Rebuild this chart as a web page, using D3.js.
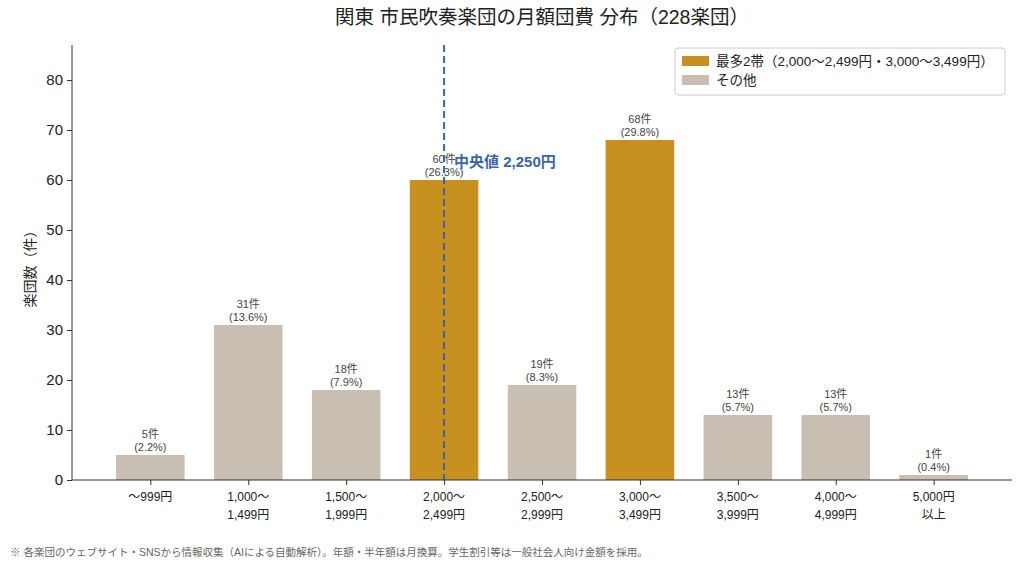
<!DOCTYPE html>
<html><head><meta charset="utf-8">
<script src="https://cdn.jsdelivr.net/npm/d3@7"></script>
<style>
body{margin:0;background:#fff;}
text{font-family:"Liberation Sans","Noto Sans CJK JP",sans-serif;}
</style></head>
<body><svg id="c" width="1024" height="572"></svg>
<script>
const categories = ["〜999円","1,000〜\n1,499円","1,500〜\n1,999円","2,000〜\n2,499円","2,500〜\n2,999円","3,000〜\n3,499円","3,500〜\n3,999円","4,000〜\n4,999円","5,000円\n以上"];
const counts = [5,31,18,60,19,68,13,13,1];
const percents = ["2.2%","13.6%","7.9%","26.3%","8.3%","29.8%","5.7%","5.7%","0.4%"];
const highlight = [false,false,false,true,false,true,false,false,false];
const yTicks = [0,10,20,30,40,50,60,70,80];
const medianIndex = 3;
const medianLabel = "中央値 2,250円";
const title = "関東 市民吹奏楽団の月額団費 分布（228楽団）";
const yLabel = "楽団数（件）";
const legendItems = ["最多2帯（2,000〜2,499円・3,000〜3,499円）","その他"];
const note = "※ 各楽団のウェブサイト・SNSから情報収集（AIによる自動解析）。年額・半年額は月換算。学生割引等は一般社会人向け金額を採用。";

const gold = "#C8901F", gray = "#C8BEB1", blue = "#3A65A8";
const svg = d3.select("#c");
const L = 72, R = 1012, T = 45, B = 480;
const x = d3.scaleLinear().domain([-0.8, 8.8]).range([L, R]);
const y = d3.scaleLinear().domain([0, 87]).range([B, T]);
const bw = (x(1)-x(0))*0.7;

svg.append("text").attr("x",(L+R)/2).attr("y",24).attr("text-anchor","middle")
  .attr("font-size",19.5).attr("fill","#222").text(title);

// bars
svg.selectAll("rect.bar").data(counts).join("rect")
  .attr("x",(d,i)=>x(i)-bw/2).attr("y",d=>y(d))
  .attr("width",bw).attr("height",d=>y(0)-y(d))
  .attr("fill",(d,i)=>highlight[i]?gold:gray);

// labels
counts.forEach((d,i)=>{
  svg.append("text").attr("x",x(i)).attr("y",y(d)-17).attr("text-anchor","middle")
    .attr("font-size",11).attr("fill","#444").text(d+"件");
  svg.append("text").attr("x",x(i)).attr("y",y(d)-4).attr("text-anchor","middle")
    .attr("font-size",11).attr("fill","#444").text("("+percents[i]+")");
});

// median line
svg.append("line").attr("x1",x(medianIndex)).attr("x2",x(medianIndex))
  .attr("y1",T).attr("y2",B).attr("stroke",blue).attr("stroke-width",2)
  .attr("stroke-dasharray","7,4");
svg.append("text").attr("x",x(medianIndex)+10).attr("y",167)
  .attr("font-size",15).attr("font-weight","bold").attr("fill",blue).text(medianLabel);

// axes
const yAxis = d3.axisLeft(y).tickValues(yTicks).tickSize(5).tickPadding(4);
const gy = svg.append("g").attr("transform",`translate(${L},0)`).call(yAxis);
gy.select(".domain").attr("d",`M-0,${T}V${B}`).attr("stroke","#333");
gy.selectAll("text").attr("font-size",15).attr("fill","#222")
  .style("font-family","'Liberation Sans',sans-serif");
gy.selectAll(".tick line").attr("stroke","#333");

const xAxis = d3.axisBottom(x).tickValues(d3.range(categories.length)).tickSize(5).tickFormat("");
const gx = svg.append("g").attr("transform",`translate(0,${B})`).call(xAxis);
gx.select(".domain").attr("d",`M${L},0H${R}`).attr("stroke","#333");
gx.selectAll(".tick line").attr("stroke","#333");
categories.forEach((c,i)=>{
  const lines = c.split("\n");
  lines.forEach((ln,k)=>svg.append("text").attr("text-anchor","middle").attr("font-size",12)
    .attr("fill","#222").attr("x",x(i)).attr("y",B+21+k*18).text(ln));
});

svg.append("text").attr("transform",`translate(35,${(T+B)/2+3}) rotate(-90)`)
  .attr("text-anchor","middle").attr("font-size",14).attr("fill","#222").text(yLabel);

// legend
const lg = svg.append("g");
lg.append("rect").attr("x",675).attr("y",48).attr("width",330).attr("height",47)
  .attr("rx",3).attr("fill","#fff").attr("stroke","#ccc");
[gold,gray].forEach((col,k)=>{
  lg.append("rect").attr("x",682).attr("y",56+k*19).attr("width",27).attr("height",10).attr("fill",col);
  lg.append("text").attr("x",716).attr("y",65.5+k*19).attr("font-size",13.5).attr("fill","#222").text(legendItems[k]);
});

svg.append("text").attr("x",10).attr("y",556).attr("font-size",10.5).attr("fill","#666").text(note);
</script></body></html>
